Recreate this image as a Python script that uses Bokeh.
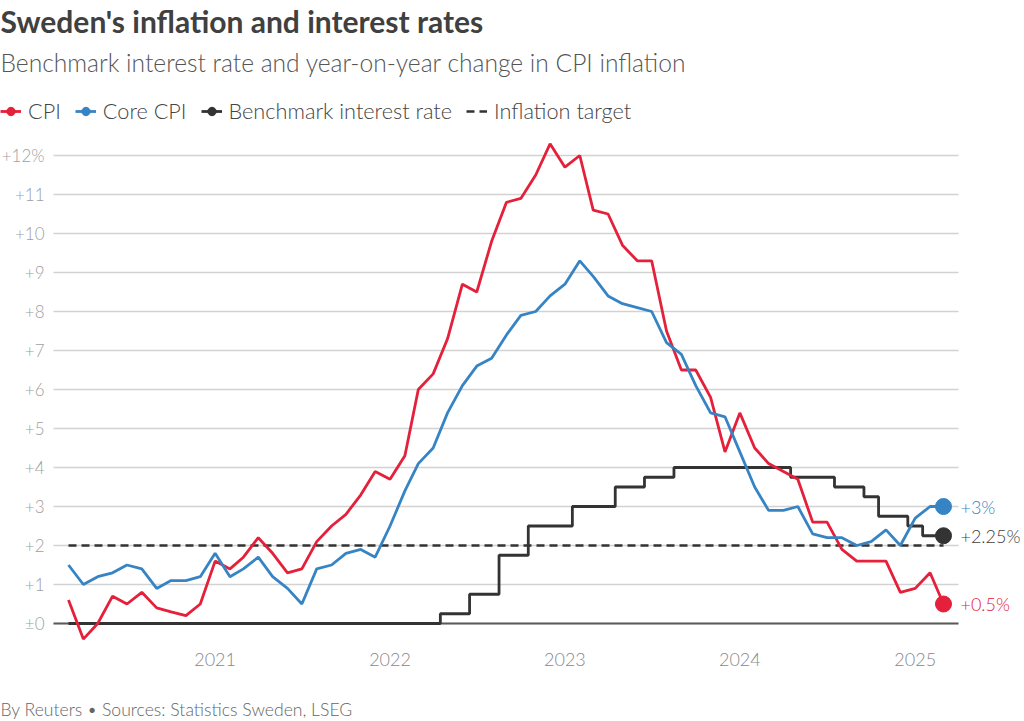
import pandas as pd
from bokeh.plotting import figure
from bokeh.models import (Range1d, FixedTicker, DatetimeTickFormatter, Label,
                          Legend, LegendItem)
from bokeh.core.properties import value
from bokeh.embed import file_html
from bokeh.resources import INLINE

# ---------------- data ----------------
dates = pd.date_range("2020-03-01", "2025-03-01", freq="MS")

cpi = [0.6, -0.4, 0.0, 0.7, 0.5, 0.8, 0.4, 0.3, 0.2, 0.5,
       1.6, 1.4, 1.7, 2.2, 1.8, 1.3, 1.4, 2.1, 2.5, 2.8, 3.3, 3.9,
       3.7, 4.3, 6.0, 6.4, 7.3, 8.7, 8.5, 9.8, 10.8, 10.9, 11.5, 12.3,
       11.7, 12.0, 10.6, 10.5, 9.7, 9.3, 9.3, 7.5, 6.5, 6.5, 5.8, 4.4,
       5.4, 4.5, 4.1, 3.9, 3.7, 2.6, 2.6, 1.9, 1.6, 1.6, 1.6, 0.8,
       0.9, 1.3, 0.5]

core_cpi = [1.5, 1.0, 1.2, 1.3, 1.5, 1.4, 0.9, 1.1, 1.1, 1.2,
            1.8, 1.2, 1.4, 1.7, 1.2, 0.9, 0.5, 1.4, 1.5, 1.8, 1.9, 1.7,
            2.5, 3.4, 4.1, 4.5, 5.4, 6.1, 6.6, 6.8, 7.4, 7.9, 8.0, 8.4,
            8.7, 9.3, 8.9, 8.4, 8.2, 8.1, 8.0, 7.2, 6.9, 6.1, 5.4, 5.3,
            4.4, 3.5, 2.9, 2.9, 3.0, 2.3, 2.2, 2.2, 2.0, 2.1, 2.4, 2.0,
            2.7, 3.0, 3.0]

policy_rate = [0.0, 0.0, 0.0, 0.0, 0.0, 0.0, 0.0, 0.0, 0.0, 0.0,
               0.0, 0.0, 0.0, 0.0, 0.0, 0.0, 0.0, 0.0, 0.0, 0.0, 0.0, 0.0,
               0.0, 0.0, 0.0, 0.0, 0.25, 0.25, 0.75, 0.75, 1.75, 1.75, 2.5, 2.5,
               2.5, 3.0, 3.0, 3.0, 3.5, 3.5, 3.75, 3.75, 4.0, 4.0, 4.0, 4.0,
               4.0, 4.0, 4.0, 4.0, 3.75, 3.75, 3.75, 3.5, 3.5, 3.25, 2.75, 2.75,
               2.5, 2.25, 2.25]

inflation_target = 2.0

y_ticks = [0, 1, 2, 3, 4, 5, 6, 7, 8, 9, 10, 11, 12]
y_tick_labels = ["±0", "+1", "+2", "+3", "+4", "+5", "+6", "+7", "+8",
                 "+9", "+10", "+11", "+12%"]
x_tick_years = ["2021", "2022", "2023", "2024", "2025"]

# ---------------- layout / styling ----------------
RED = "#e4203a"
BLUE = "#3784c4"
DARK = "#333333"
FONT = "Lato"
LIGHT = "'Lato Light', Lato"
W, H = 1020, 720

day = pd.Timedelta(days=1)
x_start = dates[0] - 141.9 * day      # canvas left edge
grid_start = dates[0] - 31.3 * day    # where gridlines / y axis begin
grid_end = dates[-1] + 31.3 * day     # where gridlines stop
x_end = dates[-1] + 160.7 * day       # canvas right edge (room for end labels)
y_bottom, y_top = -2.487, 15.974      # canvas bottom / top in value units
x_axis_at = -0.564                    # where the x-axis labels hang from

p = figure(width=W, height=H, output_backend="svg", toolbar_location=None,
           x_axis_type="datetime",
           x_range=Range1d(x_start, x_end), y_range=Range1d(y_bottom, y_top),
           min_border=0)
p.outline_line_color = None
p.background_fill_color = "white"
p.border_fill_color = "white"
p.xgrid.grid_line_color = None
p.ygrid.grid_line_color = None
p.title.visible = False

# y axis (pinned where the gridlines start)
p.yaxis.fixed_location = grid_start.value / 1e6
p.yaxis.ticker = FixedTicker(ticks=y_ticks)
p.yaxis.major_label_overrides = {t: l for t, l in zip(y_ticks, y_tick_labels)}
p.yaxis.axis_line_color = None
p.yaxis.major_tick_line_color = None
p.yaxis.minor_tick_line_color = None
p.yaxis.major_tick_out = 0
p.yaxis.major_tick_in = 0
p.yaxis.minor_tick_out = 0
p.yaxis.major_label_standoff = 9
p.yaxis.major_label_text_font = LIGHT
p.yaxis.major_label_text_font_size = "17px"
p.yaxis.major_label_text_color = "#a0a0a0"

# x axis (pinned just below the plotting area)
year_ticks = [pd.Timestamp(f"{y}-01-01").value / 1e6 for y in x_tick_years]
p.xaxis.fixed_location = x_axis_at
p.xaxis.ticker = FixedTicker(ticks=year_ticks)
p.xaxis.formatter = DatetimeTickFormatter(years="%Y", months="%Y", days="%Y",
                                          hours="%Y", minutes="%Y")
p.xaxis.axis_line_color = None
p.xaxis.major_tick_line_color = None
p.xaxis.minor_tick_line_color = None
p.xaxis.major_tick_out = 0
p.xaxis.major_tick_in = 0
p.xaxis.minor_tick_out = 0
p.xaxis.major_label_standoff = 7
p.xaxis.major_label_text_font = LIGHT
p.xaxis.major_label_text_font_size = "18px"
p.xaxis.major_label_text_color = "#888888"

# gridlines and zero line
p.segment(x0=[grid_start] * len(y_ticks), y0=y_ticks,
          x1=[grid_end] * len(y_ticks), y1=y_ticks,
          line_color="#d2d2d2", line_width=1.5)
p.segment(x0=[grid_start], y0=[0], x1=[grid_end], y1=[0],
          line_color="#5a5a5a", line_width=2)

# series
r_target = p.line([dates[0], dates[-1]], [inflation_target, inflation_target],
                  line_color=DARK, line_width=2.6, line_dash="8 5")
r_rate = p.step(dates, policy_rate, mode="center", line_color=DARK,
                line_width=2.8)
r_cpi = p.line(dates, cpi, line_color=RED, line_width=2.8)
r_core = p.line(dates, core_cpi, line_color=BLUE, line_width=2.8)

d_core = p.scatter([dates[-1]], [core_cpi[-1]], size=16, color=BLUE)
d_rate = p.scatter([dates[-1]], [policy_rate[-1]], size=16, color=DARK)
d_cpi = p.scatter([dates[-1]], [cpi[-1]], size=16, color=RED)

# end labels
end_vals = [core_cpi[-1], policy_rate[-1], cpi[-1]]
p.text(x=[dates[-1]] * 3, y=end_vals,
       text=[f"+{v:g}%" for v in end_vals],
       x_offset=17, text_baseline="middle",
       text_color=[BLUE, "#404040", RED],
       text_font=value(LIGHT), text_font_size="18px")

# legend
legend = Legend(items=[
    LegendItem(label="CPI", renderers=[r_cpi, d_cpi]),
    LegendItem(label="Core CPI", renderers=[r_core, d_core]),
    LegendItem(label="Benchmark interest rate", renderers=[r_rate, d_rate]),
    LegendItem(label="Inflation target", renderers=[r_target]),
], orientation="horizontal", location=(0, H - 124))
legend.glyph_width = 21
legend.glyph_height = 22
legend.label_standoff = 7
legend.spacing = 14
legend.padding = 0
legend.margin = 0
legend.border_line_alpha = 0
legend.background_fill_alpha = 0
legend.label_text_font = LIGHT
legend.label_text_font_size = "21.7px"
legend.label_text_color = "#444444"
p.add_layout(legend)

# title, subtitle, source (screen px from the bottom-left corner)
p.add_layout(Label(x=0, y=H - 20, x_units="screen", y_units="screen",
                   text="Sweden's inflation and interest rates",
                   text_baseline="middle", text_font=FONT, text_font_style="bold",
                   text_font_size="30px", text_color="#404040"))
p.add_layout(Label(x=0, y=H - 62, x_units="screen", y_units="screen",
                   text="Benchmark interest rate and year-on-year change in CPI inflation",
                   text_baseline="middle", text_font=LIGHT,
                   text_font_size="24.6px", text_color="#555555"))
p.add_layout(Label(x=0, y=H - 709, x_units="screen", y_units="screen",
                   text="By Reuters \u2022 Sources: Statistics Sweden, LSEG",
                   text_baseline="middle", text_font=LIGHT,
                   text_font_size="17.6px", text_color="#666666"))

open("out.html", "w").write(file_html(p, INLINE))
